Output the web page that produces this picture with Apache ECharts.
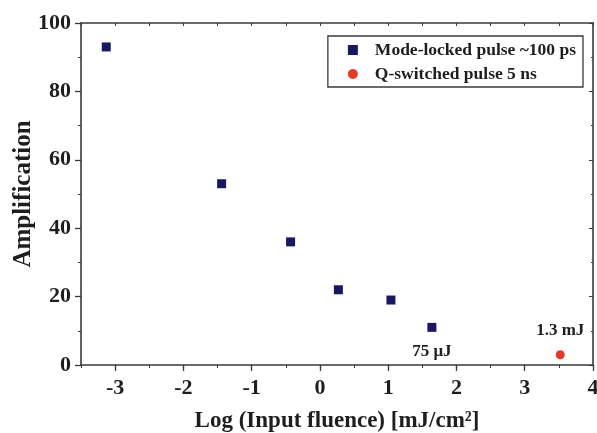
<!DOCTYPE html>
<html>
<head>
<meta charset="utf-8">
<script src="https://cdn.jsdelivr.net/npm/echarts@6/dist/echarts.min.js"></script>
<style>html,body{margin:0;padding:0;background:#fff}#c{width:597px;height:433px}</style>
</head>
<body>
<div id="c"></div>
<script>
var modeLockedX = [-3.13, -1.44, -0.43, 0.27, 1.04, 1.64];
var modeLockedY = [93, 53, 36, 22, 19, 11];
var qSwitchedX = [3.52];
var qSwitchedY = [3];
var modeLockedNotes = ['', '', '', '', '', '75 μJ'];
var qSwitchedNotes = ['1.3 mJ'];
var seriesNames = ['Mode-locked pulse ~100 ps', 'Q-switched pulse 5 ns'];
var xTickValues = [-3, -2, -1, 0, 1, 2, 3, 4];
var xTitle = 'Log (Input fluence) [mJ/cm²]';
var yTitle = 'Amplification';

var FONT = 'Liberation Serif';
var AX = '#3a3a3a';
var TXT = '#1e1e1e';

function pts(xs, ys, notes, pos) {
  return xs.map(function (x, i) {
    var d = { value: [x, ys[i]] };
    if (notes[i]) {
      d.label = { show: true, formatter: notes[i], position: pos, distance: 11,
        fontFamily: FONT, fontWeight: 'bold', fontSize: 17, color: TXT };
    }
    return d;
  });
}

var chart = echarts.init(document.getElementById('c'));
chart.setOption({
  backgroundColor: '#fff',
  animation: false,
  grid: { left: 81, right: 4, top: 23, bottom: 68, containLabel: false, outerBoundsMode: 'none' },
  legend: {
    orient: 'vertical', right: 14, top: 36,
    itemWidth: 10, itemHeight: 10, itemGap: 6,
    padding: [5, 7, 4, 20],
    borderColor: AX, borderWidth: 1.3,
    textStyle: { fontFamily: FONT, fontWeight: 'bold', fontSize: 17.5, color: TXT, padding: [0, 0, 0, 12] },
    data: [{ name: seriesNames[0], icon: 'rect' }, { name: seriesNames[1], icon: 'circle' }]
  },
  xAxis: [{
    type: 'value', min: -3.5, max: 4, interval: 0.5, position: 'bottom',
    name: xTitle, nameLocation: 'middle', nameGap: 45,
    nameTextStyle: { fontFamily: FONT, fontWeight: 'bold', fontSize: 23, color: TXT },
    axisLine: { show: true, onZero: false, lineStyle: { color: AX, width: 1.6 } },
    axisTick: { show: true, length: 3, inside: false, lineStyle: { color: AX, width: 1.1 } },
    axisLabel: { fontFamily: FONT, fontWeight: 'bold', fontSize: 22, color: TXT, margin: 12,
      formatter: function (v) { return Math.abs(v - Math.round(v)) < 1e-6 ? String(Math.round(v)) : ''; } },
    splitLine: { show: false }
  }, {
    type: 'value', min: -3.5, max: 4, interval: 0.5, position: 'top',
    axisLine: { show: true, onZero: false, lineStyle: { color: AX, width: 1.6 } },
    axisTick: { show: true, length: 3, inside: true, lineStyle: { color: AX } },
    axisLabel: { show: false }, splitLine: { show: false }
  }, {
    type: 'value', min: -3.5, max: 4, position: 'bottom',
    axisLine: { show: false, onZero: false },
    axisTick: { show: true, length: 6, inside: false, customValues: xTickValues, lineStyle: { color: AX, width: 1.3 } },
    axisLabel: { show: false }, splitLine: { show: false }
  }],
  yAxis: [{
    type: 'value', min: 0, max: 100, interval: 20, position: 'left',
    name: yTitle, nameLocation: 'middle', nameGap: 45, nameMoveOverlap: false,
    nameTextStyle: { fontFamily: FONT, fontWeight: 'bold', fontSize: 25, color: TXT },
    axisLine: { show: true, onZero: false, lineStyle: { color: AX, width: 1.6 } },
    axisTick: { show: true, length: 6, inside: false, lineStyle: { color: AX, width: 1.3 } },
    minorTick: { show: true, splitNumber: 2, length: 3, lineStyle: { color: AX } },
    axisLabel: { fontFamily: FONT, fontWeight: 'bold', fontSize: 22, color: TXT, margin: 10 },
    splitLine: { show: false }
  }, {
    type: 'value', min: 0, max: 100, interval: 20, position: 'right',
    axisLine: { show: true, onZero: false, lineStyle: { color: AX, width: 1.6 } },
    axisTick: { show: true, length: 4, inside: true, lineStyle: { color: AX } },
    minorTick: { show: true, splitNumber: 2, length: 2, lineStyle: { color: AX } },
    axisLabel: { show: false }, splitLine: { show: false }
  }],
  series: [{
    name: seriesNames[0], type: 'scatter', symbol: 'rect', symbolSize: 9,
    itemStyle: { color: '#1a1862', opacity: 1 },
    data: pts(modeLockedX, modeLockedY, modeLockedNotes, 'bottom')
  }, {
    name: seriesNames[1], type: 'scatter', symbol: 'circle', symbolSize: 9,
    itemStyle: { color: '#e63a26', opacity: 1 },
    data: pts(qSwitchedX, qSwitchedY, qSwitchedNotes, 'top')
  }]
});
</script>
</body>
</html>
